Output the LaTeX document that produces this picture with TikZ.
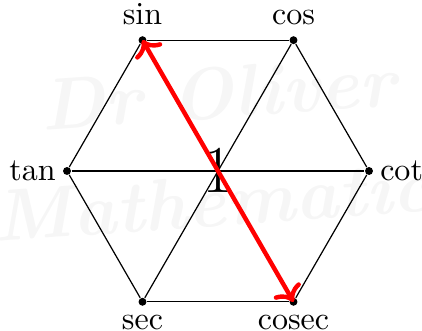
\documentclass[tikz,border=0pt]{standalone}
\usetikzlibrary{arrows.meta}
\begin{document}
\begin{tikzpicture}[x=0.328pt,y=-0.328pt,
  font=\fontsize{10.5}{12}\selectfont,
  dot/.style={circle,fill=black,inner sep=0pt,minimum size=2.6pt},
  edge/.style={draw=black,line width=0.4pt},
  redarrow/.style={red,line width=1.45pt,<->},
  wm/.style={text=black!3.5,font=\fontsize{24}{28}\selectfont\bfseries\itshape,inner sep=0pt}]
\useasboundingbox (0,0) rectangle (422,331);
% watermark
\node[wm,rotate=4] (wm1) at (218,93) {Dr Oliver};
\node[wm,rotate=4] (wm2) at (230,200) {Mathematics};
% vertices
\node[dot,label={[inner sep=3.2pt]above:sin}] (sin) at (142.5,40.2) {};
\node[dot,label={[inner sep=3.2pt]above:cos}] (cos) at (293.5,40.2) {};
\node[dot,label={[inner sep=2pt]right:cot}] (cot) at (369,171) {};
\node[dot,label={[inner sep=2.6pt]below:cosec}] (cosec) at (293.5,301.8) {};
\node[dot,label={[inner sep=2.6pt]below:sec}] (sec) at (142.5,301.8) {};
\node[dot,label={[inner sep=2pt]left:tan}] (tan) at (67,171) {};
% hexagon edges
\draw[edge] (sin) -- (cos);
\draw[edge] (cos) -- (cot);
\draw[edge] (cot) -- (cosec);
\draw[edge] (cosec) -- (sec);
\draw[edge] (sec) -- (tan);
\draw[edge] (tan) -- (sin);
% diagonals
\draw[edge] (tan) -- (cot);
\draw[edge] (cos) -- (sec);
% centre
\node[font=\fontsize{22}{26}\selectfont,inner sep=0pt] (one) at (218,170) {1};
% red arrow
\draw[redarrow] (sin.center) -- (cosec.center);
\end{tikzpicture}
\end{document}
